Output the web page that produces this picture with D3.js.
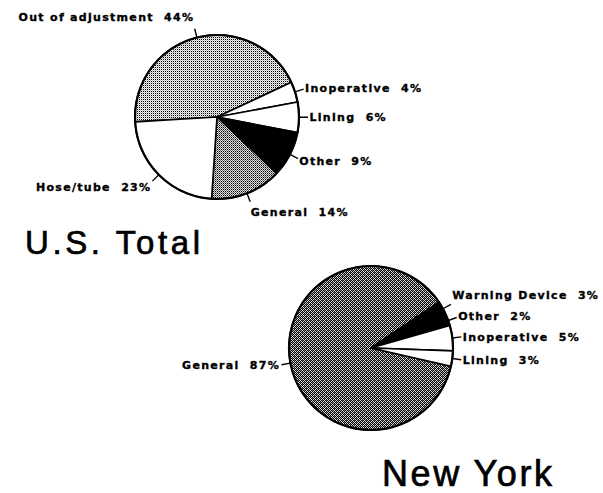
<!DOCTYPE html>
<html>
<head>
<meta charset="utf-8">
<script src="https://cdn.jsdelivr.net/npm/d3@7"></script>
<style>
  body { margin: 0; background: #fff; }
  svg { display: block; }
  .lbl { font: bold 11px "DejaVu Sans", sans-serif; letter-spacing: 1.3px; white-space: pre; fill: #000; stroke: #000; stroke-width: 0.35px; }
  .title { font-family: "Liberation Sans", Arial, sans-serif; fill: #000; stroke: #000; stroke-width: 0.7px; }
</style>
</head>
<body>
<div id="chart"></div>
<script>
// U.S. total, share of defects (%)
var usCategories = ["Out of adjustment", "Inoperative", "Lining", "Other", "General", "Hose/tube"];
var usValues = [44, 4, 6, 9, 14, 23];

// New York, share of defects (%)
var nyCategories = ["General", "Warning Device", "Other", "Inoperative", "Lining"];
var nyValues = [87, 3, 2, 5, 3];

var width = 603, height = 493;

var svg = d3.select("#chart").append("svg")
    .attr("width", width)
    .attr("height", height);

// stipple textures, like the print
var defs = svg.append("defs");
function stipple(id, size, dots, bg) {
    var p = defs.append("pattern")
        .attr("id", id)
        .attr("width", size).attr("height", size)
        .attr("patternUnits", "userSpaceOnUse");
    p.append("rect").attr("width", size).attr("height", size).attr("fill", bg);
    dots.forEach(function (d) {
        p.append("rect").attr("x", d[0]).attr("y", d[1])
            .attr("width", 1).attr("height", 1).attr("fill", d[2] || "#000");
    });
}
stipple("light", 2, [[0, 0], [1, 1, "#bbb"]], "#f0f0f0");
stipple("medium", 2, [[0, 0], [1, 1, "#666"]], "#e0e0e0");
stipple("dark", 4, [[0, 0], [2, 0], [1, 1], [3, 1], [0, 2], [2, 2], [1, 3], [3, 3], [3, 0, "#666"], [1, 2, "#777"]], "#dcdcdc");

var fills = {
    us: {
        "Out of adjustment": "url(#light)", "Inoperative": "#fff", "Lining": "#fff",
        "Other": "#000", "General": "url(#medium)", "Hose/tube": "#fff"
    },
    ny: {
        "General": "url(#dark)", "Warning Device": "#000", "Other": "#000",
        "Inoperative": "#fff", "Lining": "#fff"
    }
};

function drawPie(key, cats, vals, cx, cy, r, startDeg) {
    var rows = cats.map(function (c, i) { return { name: c, value: vals[i] }; });
    var a0 = startDeg * Math.PI / 180;
    var pie = d3.pie().sort(null).value(function (d) { return d.value; })
        .startAngle(a0).endAngle(a0 + 2 * Math.PI);
    var arc = d3.arc().innerRadius(0).outerRadius(r);
    var arcs = pie(rows);

    var g = svg.append("g").attr("transform", "translate(" + cx + "," + cy + ")");

    g.selectAll("path.slice")
        .data(arcs)
        .enter().append("path")
        .attr("class", "slice")
        .attr("d", arc)
        .attr("fill", function (d) { return fills[key][d.data.name]; })
        .attr("stroke", "#000")
        .attr("stroke-width", 1.6)
        .attr("stroke-linejoin", "round");

    g.append("circle").attr("r", r).attr("fill", "none")
        .attr("stroke", "#000").attr("stroke-width", 2.2);

    // label layout: tick out of the rim, text beside the tick end
    var items = arcs.map(function (d) {
        var a = (d.startAngle + d.endAngle) / 2;
        var s = Math.sin(a), c = Math.cos(a);
        return {
            d: d, s: s, c: c,
            x0: s * r, y0: -c * r,
            x1: s * (r + 9), y1: -c * (r + 9),
            x: s * (r + 9) + 1.5 * s,
            y: -c * (r + 9) - c * Math.abs(c) * 12,
            right: s > 0
        };
    });
    [true, false].forEach(function (side) {
        var grp = items.filter(function (i) { return i.right === side; })
            .sort(function (a, b) { return b.y - a.y; });
        for (var i = 1; i < grp.length; i++) grp[i].y = Math.min(grp[i].y, grp[i - 1].y - 21);
    });

    g.selectAll("line.tick")
        .data(items)
        .enter().append("line")
        .attr("class", "tick")
        .attr("x1", function (d) { return d.x0; })
        .attr("y1", function (d) { return d.y0; })
        .attr("x2", function (d) { return d.x1; })
        .attr("y2", function (d) { return d.y1; })
        .attr("stroke", "#000").attr("stroke-width", 1.4);

    g.selectAll("text.lbl")
        .data(items)
        .enter().append("text")
        .attr("class", "lbl")
        .attr("x", function (d) { return d.x; })
        .attr("y", function (d) { return d.y; })
        .attr("dy", "0.35em")
        .attr("text-anchor", function (d) { return d.right ? "start" : "end"; })
        .text(function (d) { return d.d.data.name + "  " + d.d.data.value + "%"; });
}

drawPie("us", usCategories, usValues, 217, 117, 82, 266.6);
drawPie("ny", nyCategories, nyValues, 371, 348, 82, 102.8);

svg.append("text").attr("class", "title")
    .attr("x", 25).attr("y", 254)
    .attr("font-size", 33)
    .attr("textLength", 175)
    .attr("lengthAdjust", "spacing")
    .text("U.S. Total");

svg.append("text").attr("class", "title")
    .attr("x", 382).attr("y", 486)
    .attr("font-size", 36)
    .attr("textLength", 170)
    .attr("lengthAdjust", "spacing")
    .text("New York");
</script>
</body>
</html>
